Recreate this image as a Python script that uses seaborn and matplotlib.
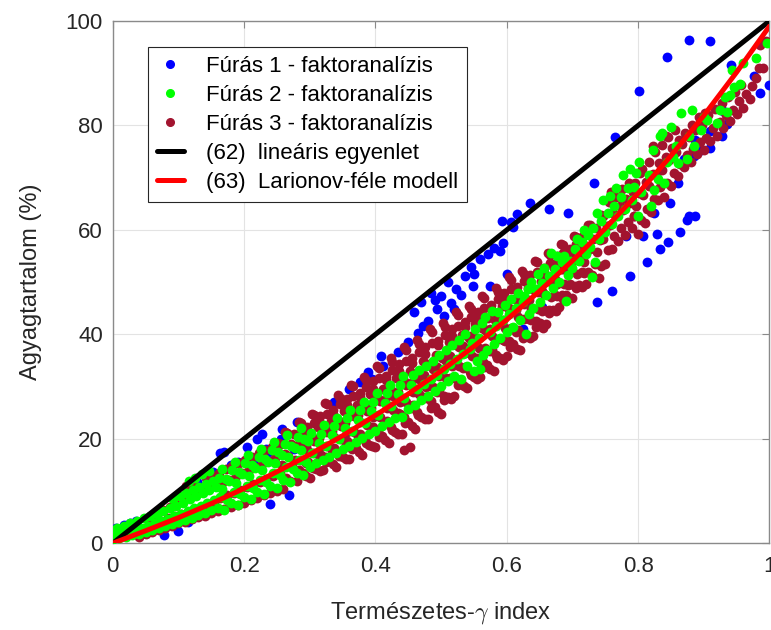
import matplotlib
matplotlib.use("Agg")
import matplotlib.pyplot as plt
from matplotlib.lines import Line2D
import seaborn as sns

# ---------------- data ----------------
blue_x = [0.005, 0.017, 0.027, 0.047, 0.078, 0.099, 0.012, 0.036, 0.062, 0.115,
          0.129, 0.152, 0.164, 0.170, 0.180, 0.190, 0.205, 0.215, 0.220, 0.228,
          0.233, 0.236, 0.256, 0.258, 0.276, 0.281, 0.240, 0.268, 0.337, 0.347,
          0.360, 0.377, 0.388, 0.395, 0.408, 0.412, 0.434, 0.449, 0.458, 0.470,
          0.473, 0.484, 0.494, 0.500, 0.505, 0.520, 0.522, 0.537, 0.548, 0.550,
          0.571, 0.575, 0.580, 0.590, 0.592, 0.600, 0.606, 0.616, 0.624, 0.636,
          0.654, 0.664, 0.693, 0.733, 0.738, 0.761, 0.765, 0.781, 0.788, 0.802,
          0.808, 0.814, 0.824, 0.829, 0.834, 0.844, 0.846, 0.849, 0.860, 0.864,
          0.865, 0.875, 0.877, 0.877, 0.885, 0.887, 0.887, 0.909, 0.910, 0.910,
          0.928, 0.930, 0.935, 0.941, 0.976, 0.986, 0.999, 0.465, 0.480, 0.490,
          0.510, 0.530, 0.515, 0.545, 0.560, 0.595, 0.610, 0.895, 0.870]
blue_y = [2.9, 3.5, 3.8, 1.9, 1.5, 2.3, 2.0, 4.2, 2.6, 4.0,
          11.8, 13.7, 17.2, 17.5, 15.0, 15.6, 18.5, 16.2, 20.0, 21.0,
          18.1, 17.5, 20.0, 21.9, 18.1, 23.3, 7.6, 9.3, 27.0, 27.7,
          29.5, 30.9, 32.8, 31.5, 35.9, 34.0, 36.6, 38.5, 44.3, 46.2,
          41.6, 48.0, 44.8, 47.3, 43.5, 44.8, 48.7, 51.1, 49.2, 51.5,
          55.3, 49.2, 56.5, 56.0, 61.7, 51.5, 61.5, 63.0, 41.0, 65.2,
          45.2, 64.0, 63.3, 69.0, 46.2, 48.3, 77.8, 58.8, 51.1, 86.7,
          58.8, 53.8, 63.3, 59.2, 56.3, 93.2, 57.6, 65.2, 69.0, 59.7,
          72.9, 62.0, 62.6, 96.4, 74.1, 77.3, 62.6, 96.2, 75.7, 78.9,
          77.9, 82.7, 80.2, 91.6, 89.4, 86.2, 87.8, 40.2, 42.5, 46.5,
          50.0, 47.5, 46.0, 53.0, 54.5, 57.5, 60.5, 75.4, 73.5]

green_x = [
    0.000, 0.004, 0.002,
    0.010, 0.014, 0.007,
    0.020, 0.024, 0.017,
    0.030, 0.034, 0.027,
    0.040, 0.044, 0.037,
    0.050, 0.054, 0.047,
    0.060, 0.064, 0.057,
    0.070, 0.074, 0.067,
    0.080, 0.084, 0.077,
    0.090, 0.094, 0.087, 0.092,
    0.100, 0.104, 0.097, 0.102,
    0.110, 0.114, 0.107, 0.112,
    0.120, 0.124, 0.117, 0.122, 0.116,
    0.130, 0.134, 0.127, 0.132, 0.126,
    0.140, 0.144, 0.137, 0.142, 0.136,
    0.150, 0.154, 0.147, 0.152, 0.146,
    0.160, 0.164, 0.157, 0.162,
    0.170, 0.174, 0.167, 0.172, 0.166,
    0.180, 0.184, 0.177, 0.182,
    0.190, 0.194, 0.187, 0.192, 0.186,
    0.200, 0.204, 0.197, 0.202,
    0.210, 0.214, 0.207, 0.212, 0.206,
    0.220, 0.224, 0.217, 0.222,
    0.230, 0.234, 0.227, 0.232, 0.226,
    0.240, 0.244, 0.237, 0.242,
    0.250, 0.254, 0.247, 0.252, 0.246,
    0.260, 0.264, 0.257, 0.262,
    0.270, 0.274, 0.267, 0.272, 0.266,
    0.280, 0.284, 0.277, 0.282,
    0.290, 0.294, 0.287, 0.292, 0.286,
    0.300, 0.304, 0.297, 0.302,
    0.310, 0.314,
    0.320, 0.324, 0.317, 0.322,
    0.330, 0.334,
    0.340, 0.344, 0.337, 0.342,
    0.350, 0.354,
    0.360, 0.364, 0.357, 0.362,
    0.370, 0.374,
    0.380, 0.384, 0.377, 0.382,
    0.390, 0.394,
    0.400, 0.404, 0.397, 0.402,
    0.410, 0.414,
    0.420, 0.424, 0.417, 0.422,
    0.430, 0.434,
    0.440, 0.444, 0.437, 0.442,
    0.450, 0.454,
    0.460, 0.464, 0.457,
    0.470, 0.474, 0.467,
    0.480, 0.484, 0.477,
    0.490, 0.494, 0.487,
    0.500, 0.504, 0.497,
    0.510, 0.514, 0.507,
    0.520, 0.524, 0.517,
    0.530, 0.534, 0.527,
    0.540, 0.544, 0.537,
    0.550, 0.554, 0.547, 0.552,
    0.560, 0.564, 0.557, 0.562,
    0.570, 0.574, 0.567,
    0.580, 0.584, 0.577,
    0.590, 0.594, 0.587,
    0.600, 0.604, 0.597,
    0.610, 0.614, 0.607,
    0.620, 0.624, 0.617,
    0.630, 0.634, 0.627, 0.632,
    0.640, 0.644, 0.637,
    0.650, 0.654, 0.647,
    0.660, 0.664, 0.657,
    0.670, 0.674, 0.667,
    0.680, 0.684, 0.677,
    0.690, 0.694, 0.687,
    0.700, 0.704, 0.697,
    0.710, 0.714, 0.707,
    0.720, 0.724, 0.717,
    0.730, 0.734, 0.727, 0.732,
    0.740, 0.744, 0.737,
    0.750, 0.754, 0.747,
    0.760, 0.764, 0.757,
    0.770, 0.774, 0.767,
    0.780, 0.784, 0.777,
    0.790, 0.794, 0.787,
    0.800, 0.804, 0.797, 0.802,
    0.820, 0.824, 0.817, 0.822,
    0.830, 0.834, 0.840, 0.844, 0.837, 0.850, 0.853,
    0.860, 0.857, 0.865, 0.875, 0.878, 0.885, 0.882, 0.895, 0.905, 0.900,
    0.920, 0.924, 0.935, 0.932, 0.940, 0.943, 0.946, 0.955, 0.960, 0.980, 0.997]
green_y = [
    0.8, 1.8, 2.6,
    1.0, 2.0, 3.0,
    1.2, 2.3, 3.4,
    1.5, 2.6, 3.8,
    1.8, 3.0, 4.3,
    2.1, 3.4, 4.8,
    2.5, 3.8, 5.2,
    2.9, 4.3, 5.7,
    3.3, 4.7, 6.2,
    3.7, 5.2, 6.7, 8.5,
    4.1, 5.7, 7.2, 9.0,
    4.5, 6.2, 7.8, 9.6,
    4.9, 6.7, 8.4, 10.2, 12.0,
    5.4, 7.2, 9.0, 10.8, 12.6,
    5.8, 7.7, 9.6, 11.4, 13.2,
    6.3, 8.2, 10.2, 12.0, 13.8,
    6.8, 8.8, 10.8, 12.6,
    6.3, 8.3, 10.4, 12.3, 14.3,
    7.8, 9.9, 12.0, 14.0,
    7.3, 9.5, 11.6, 13.6, 15.6,
    8.8, 11.0, 13.2, 15.3,
    8.4, 10.6, 12.8, 14.9, 16.9,
    9.9, 12.2, 14.4, 16.5,
    9.5, 11.8, 14.0, 16.1, 18.1,
    11.0, 13.4, 15.6, 17.8,
    10.6, 13.0, 15.3, 17.4, 19.4,
    12.2, 14.6, 16.9, 19.0,
    11.8, 14.3, 16.6, 18.7, 20.7,
    13.4, 15.9, 18.2, 20.3,
    13.0, 15.6, 17.9, 20.0, 22.0,
    14.6, 17.2, 19.6, 21.2,
    15.3, 19.3,
    15.9, 18.6, 21.0, 22.6,
    16.6, 20.7,
    17.3, 20.0, 22.4, 24.0,
    18.0, 22.1,
    18.7, 21.5, 23.9, 25.5,
    19.4, 23.7,
    20.1, 23.0, 25.5, 27.1,
    20.9, 25.3,
    21.6, 24.6, 27.1, 28.7,
    22.4, 26.9,
    23.2, 26.2, 28.7, 30.3,
    24.0, 28.6,
    24.2, 27.9, 30.4, 32.0,
    25.7, 30.3,
    26.5, 29.6, 32.2,
    27.4, 30.5, 33.1,
    28.3, 31.4, 34.0,
    29.2, 32.3, 35.0,
    30.1, 33.3, 36.0,
    31.0, 34.3, 37.0,
    32.0, 35.3, 38.0,
    31.5, 36.3, 39.0,
    33.9, 37.3, 40.0,
    33.0, 35.0, 38.4, 41.1,
    33.4, 36.0, 39.4, 42.2,
    37.1, 40.5, 43.3,
    38.2, 41.6, 44.4,
    39.3, 42.8, 44.2,
    40.4, 43.9, 45.6,
    41.5, 45.0, 46.8,
    42.7, 46.2, 48.0,
    40.0, 43.9, 47.4, 48.7,
    45.1, 48.6, 50.0,
    46.3, 49.9, 51.5,
    47.5, 51.1, 52.8,
    48.8, 52.5, 55.6,
    50.1, 53.8, 55.0,
    46.4, 51.4, 55.1,
    52.7, 56.3, 54.0,
    54.0, 57.6, 58.2,
    55.4, 59.0, 60.0,
    51.0, 53.8, 56.8, 60.4,
    58.2, 61.8, 63.3,
    59.6, 63.3, 65.8,
    61.1, 64.5, 66.5,
    62.6, 66.4, 68.0,
    64.1, 68.0, 70.5,
    65.7, 68.3, 71.6,
    62.6, 67.3, 71.0, 73.0,
    64.5, 67.7, 70.5, 75.4,
    69.7, 77.9, 69.0, 73.0, 78.6, 79.8, 74.0,
    72.9, 76.0, 82.4, 73.5, 78.0, 76.0, 83.0, 79.2, 81.0, 81.7,
    80.5, 83.0, 82.5, 85.5, 85.9, 90.6, 87.4, 88.0, 92.0, 93.0, 95.7]

maroon_x = [
    0.040, 0.044,
    0.050, 0.054,
    0.060, 0.064, 0.057,
    0.070, 0.074, 0.067,
    0.080, 0.084, 0.077,
    0.090, 0.094, 0.087,
    0.100, 0.104, 0.097,
    0.110, 0.114, 0.107, 0.112,
    0.120, 0.124, 0.117, 0.122,
    0.130, 0.134, 0.127,
    0.140, 0.144, 0.137, 0.142,
    0.150, 0.154, 0.147, 0.152,
    0.160, 0.164, 0.157, 0.162,
    0.170, 0.174, 0.167, 0.172,
    0.180, 0.184, 0.177, 0.182,
    0.190, 0.194, 0.187, 0.192,
    0.200, 0.204, 0.197, 0.202,
    0.210, 0.214, 0.207, 0.212,
    0.220, 0.224, 0.217, 0.222,
    0.230, 0.234, 0.227, 0.232,
    0.240, 0.244, 0.237, 0.242,
    0.250, 0.254, 0.247, 0.252,
    0.260, 0.264, 0.257, 0.262, 0.256, 0.263,
    0.270, 0.274, 0.267, 0.272, 0.266,
    0.280, 0.284, 0.277, 0.282, 0.276, 0.283,
    0.290, 0.294, 0.287, 0.292, 0.286,
    0.300, 0.304, 0.297, 0.302, 0.296, 0.303,
    0.310, 0.314, 0.307, 0.312, 0.306,
    0.320, 0.324, 0.317, 0.322, 0.316, 0.323,
    0.330, 0.334, 0.327, 0.332, 0.326,
    0.340, 0.344, 0.337, 0.342, 0.336, 0.343,
    0.350, 0.354, 0.347, 0.352, 0.346,
    0.360, 0.364, 0.357, 0.362, 0.356, 0.363,
    0.370, 0.374, 0.367, 0.372, 0.366,
    0.380, 0.384, 0.377, 0.382, 0.376, 0.383,
    0.390, 0.394, 0.387, 0.392, 0.386,
    0.400, 0.404, 0.397, 0.402, 0.396, 0.403,
    0.410, 0.414, 0.407, 0.412, 0.406,
    0.420, 0.424, 0.417, 0.422, 0.416, 0.423,
    0.430, 0.434, 0.427, 0.432, 0.426,
    0.440, 0.444, 0.437, 0.442, 0.436, 0.443,
    0.450, 0.454, 0.447, 0.452, 0.446,
    0.460, 0.464, 0.457, 0.462, 0.456, 0.463,
    0.470, 0.474, 0.467, 0.472, 0.466,
    0.480, 0.484, 0.477, 0.482, 0.476, 0.483,
    0.490, 0.494, 0.487, 0.492, 0.486,
    0.500, 0.504, 0.497, 0.502, 0.496, 0.503,
    0.510, 0.514, 0.507, 0.512, 0.506,
    0.520, 0.524, 0.517, 0.522, 0.516, 0.523,
    0.530, 0.534, 0.527, 0.532, 0.526,
    0.540, 0.544, 0.537, 0.542, 0.536, 0.543,
    0.550, 0.554, 0.547, 0.552, 0.546,
    0.560, 0.564, 0.557, 0.562, 0.556, 0.563,
    0.570, 0.574, 0.567, 0.572, 0.566,
    0.580, 0.584, 0.577, 0.582, 0.576, 0.583,
    0.590, 0.594, 0.587, 0.592, 0.586,
    0.600, 0.604, 0.597, 0.602, 0.596, 0.603,
    0.610, 0.614, 0.607, 0.612, 0.606,
    0.620, 0.624, 0.617, 0.622, 0.616, 0.623,
    0.630, 0.634, 0.627, 0.632, 0.626,
    0.640, 0.644, 0.637, 0.642, 0.636, 0.643,
    0.650, 0.654, 0.647, 0.652, 0.646,
    0.660, 0.664, 0.657, 0.662, 0.656, 0.663,
    0.670, 0.674, 0.667, 0.672, 0.666,
    0.680, 0.684, 0.677, 0.682, 0.676, 0.683,
    0.690, 0.694, 0.687, 0.692, 0.686,
    0.700, 0.704, 0.697, 0.702, 0.696, 0.703,
    0.710, 0.714, 0.707, 0.712, 0.706,
    0.720, 0.724, 0.717, 0.722, 0.716, 0.723,
    0.730, 0.734, 0.727, 0.732, 0.726,
    0.740, 0.744, 0.737, 0.742, 0.736, 0.743,
    0.750, 0.754, 0.747, 0.752, 0.746,
    0.760, 0.764, 0.757, 0.762, 0.756,
    0.770, 0.774, 0.767, 0.772, 0.766,
    0.780, 0.784, 0.777, 0.782, 0.776,
    0.790, 0.794, 0.787, 0.792, 0.786,
    0.800, 0.804, 0.797, 0.802, 0.796, 0.803,
    0.810, 0.814, 0.807, 0.812, 0.806,
    0.820, 0.824, 0.817, 0.822, 0.816, 0.823,
    0.830, 0.834, 0.827, 0.832, 0.826,
    0.840, 0.844, 0.837, 0.842, 0.836, 0.843,
    0.850, 0.854, 0.847, 0.852, 0.846,
    0.860, 0.864, 0.857, 0.862, 0.856,
    0.870, 0.874, 0.867, 0.872,
    0.880, 0.884, 0.877, 0.882,
    0.890, 0.894, 0.887, 0.892,
    0.900, 0.904, 0.897, 0.902,
    0.910, 0.914, 0.907,
    0.920, 0.924, 0.917,
    0.930, 0.934, 0.927,
    0.940, 0.944, 0.937,
    0.950, 0.954, 0.947,
    0.960, 0.964, 0.957,
    0.970, 0.974,
    0.980, 0.984,
    0.990, 0.986,
    0.995,
    0.443, 0.453, 0.793, 0.758,
    0.285, 0.287, 0.284, 0.286,
    0.295, 0.297, 0.294, 0.296,
    0.305, 0.307, 0.304, 0.306,
    0.315, 0.317, 0.314, 0.316,
    0.325, 0.327, 0.324, 0.326,
    0.335, 0.337, 0.334, 0.336,
    0.345, 0.347, 0.344, 0.346,
    0.355, 0.357, 0.354, 0.356,
    0.365, 0.367, 0.364, 0.366,
    0.375, 0.377, 0.374, 0.376,
    0.385, 0.387, 0.384, 0.386,
    0.395, 0.397, 0.394, 0.396,
    0.405, 0.407, 0.404, 0.406,
    0.415, 0.417, 0.414, 0.416,
    0.425, 0.427, 0.424, 0.426,
    0.435, 0.437, 0.434, 0.436,
    0.445, 0.447, 0.444, 0.446,
    0.455, 0.457, 0.454, 0.456,
    0.465, 0.467, 0.464, 0.466,
    0.475, 0.477, 0.474, 0.476,
    0.485, 0.487, 0.484, 0.486,
    0.495, 0.497, 0.494, 0.496,
    0.505, 0.507, 0.504, 0.506,
    0.515, 0.517, 0.514, 0.516,
    0.525, 0.527, 0.524, 0.526,
    0.535, 0.537, 0.534, 0.536,
    0.545, 0.547, 0.544, 0.546,
    0.555, 0.557, 0.554, 0.556,
    0.565, 0.567, 0.564, 0.566,
    0.575, 0.577, 0.574, 0.576,
    0.585, 0.587, 0.584, 0.586,
    0.595, 0.597, 0.594, 0.596,
    0.605, 0.607, 0.604, 0.606,
    0.615, 0.617, 0.614, 0.616,
    0.625, 0.627, 0.624, 0.626,
    0.635, 0.637, 0.634, 0.636,
    0.645, 0.647, 0.644, 0.646,
    0.655, 0.657, 0.654, 0.656,
    0.665, 0.667, 0.664, 0.666,
    0.675, 0.677, 0.674, 0.676,
    0.685, 0.687, 0.684, 0.686,
    0.695, 0.697, 0.694, 0.696,
    0.705, 0.707, 0.704, 0.706,
    0.715, 0.717, 0.714, 0.716]
maroon_y = [
    1.2, 2.5,
    1.8, 3.4,
    2.2, 3.9, 5.0,
    2.6, 4.2, 5.6,
    3.0, 4.8, 6.3,
    3.3, 5.2, 7.0,
    3.8, 5.6, 7.5,
    4.1, 6.0, 8.2, 11.0,
    4.6, 6.6, 8.8, 11.6,
    5.0, 7.0, 9.4,
    5.3, 7.6, 10.0, 12.5,
    5.8, 8.0, 10.5, 12.8,
    6.2, 8.6, 11.0, 13.5,
    6.6, 9.2, 11.6, 14.2,
    7.0, 9.6, 12.2, 14.8,
    7.4, 10.2, 12.8, 15.3,
    7.8, 10.8, 13.4, 15.9,
    8.3, 11.3, 14.0, 16.5,
    8.7, 11.8, 14.6, 17.2,
    9.2, 12.3, 15.2, 17.8,
    9.6, 12.9, 15.8, 18.5,
    10.1, 13.4, 16.4, 19.2,
    10.4, 12.5, 15.0, 17.1, 19.1, 21.3,
    12.0, 14.5, 16.7, 19.0, 21.1,
    11.9, 14.1, 16.0, 18.8, 21.0, 23.2,
    13.4, 15.4, 18.4, 20.2, 23.0,
    12.5, 14.9, 17.6, 20.0, 22.3, 24.8,
    14.2, 17.0, 19.5, 22.2, 24.6,
    14.0, 16.5, 18.6, 21.8, 24.3, 26.8,
    15.7, 17.9, 21.4, 23.4, 26.7,
    14.7, 17.4, 20.4, 23.1, 25.6, 28.4,
    16.5, 19.6, 22.4, 25.4, 27.9,
    16.2, 19.0, 21.4, 24.9, 27.6, 30.4,
    18.2, 20.6, 24.3, 26.5, 30.1,
    16.9, 19.8, 23.2, 26.1, 28.8, 31.9,
    18.9, 22.3, 25.3, 28.5, 31.3,
    18.5, 21.5, 24.1, 27.9, 31.0, 34.0,
    20.5, 23.1, 27.2, 29.6, 33.5,
    19.2, 22.3, 26.0, 29.1, 32.1, 35.4,
    21.3, 25.0, 28.2, 31.7, 34.8,
    21.0, 24.2, 27.0, 31.0, 34.3, 37.5,
    23.3, 26.0, 30.3, 32.9, 37.0,
    21.9, 25.2, 29.0, 32.3, 35.4, 38.9,
    24.2, 28.0, 31.4, 35.0, 38.2,
    23.8, 27.2, 30.0, 34.3, 37.6, 41.0,
    26.1, 29.0, 33.4, 36.1, 40.4,
    24.8, 28.2, 32.1, 35.5, 38.7, 42.2,
    28.0, 31.7, 35.0, 38.5, 41.5,
    28.3, 31.4, 34.0, 38.0, 41.1, 44.2,
    30.9, 33.5, 37.5, 39.9, 43.7,
    29.8, 32.8, 36.4, 39.4, 42.3, 45.5,
    31.8, 35.4, 38.5, 41.9, 44.8,
    31.8, 34.8, 37.4, 41.3, 44.3, 47.4,
    34.2, 36.8, 40.8, 43.2, 47.0,
    33.0, 36.1, 39.6, 42.7, 45.6, 48.8,
    35.4, 39.0, 42.0, 45.4, 48.2,
    35.8, 38.7, 41.2, 45.0, 47.9, 50.9,
    38.1, 40.5, 44.4, 46.7, 50.5,
    37.1, 40.0, 43.4, 46.3, 49.1, 52.2,
    39.6, 42.9, 45.8, 48.9, 51.6,
    39.7, 42.6, 44.9, 48.5, 51.3, 54.1,
    42.1, 44.4, 48.1, 50.3, 53.8,
    42.0, 44.6, 47.7, 50.3, 52.8, 55.5,
    44.7, 47.6, 50.1, 52.8, 55.2,
    45.2, 47.6, 49.6, 52.6, 55.0, 57.4,
    47.5, 49.4, 52.5, 54.3, 57.2,
    47.0, 49.3, 52.0, 54.3, 56.4, 58.9,
    49.4, 51.9, 54.2, 56.6, 58.7,
    49.7, 51.9, 53.8, 56.6, 58.8, 61.0,
    51.4, 53.4, 56.4, 58.2, 61.0,
    50.8, 53.1, 55.8, 58.1, 60.3, 62.8,
    53.5, 56.1, 58.3, 60.7, 62.7,
    56.4, 58.8, 61.0, 63.2, 65.3,
    57.9, 60.3, 62.6, 64.5, 66.4,
    59.0, 61.5, 63.8, 66.0, 67.8,
    60.4, 62.6, 65.1, 67.2, 68.9,
    59.2, 62.0, 64.5, 67.0, 69.0, 71.0,
    61.3, 64.0, 66.6, 69.2, 71.6,
    63.5, 66.0, 68.5, 70.8, 73.0, 76.0,
    65.8, 68.2, 70.6, 72.9, 75.0,
    66.4, 69.0, 71.5, 74.0, 76.2, 78.0,
    68.5, 71.0, 73.4, 75.6, 77.8,
    70.3, 72.6, 75.0, 77.2, 79.2,
    72.0, 74.3, 76.5, 78.6,
    73.0, 75.5, 77.8, 80.0,
    74.5, 76.8, 79.2, 81.6,
    75.4, 77.6, 80.0, 82.3,
    77.0, 79.5, 82.0,
    78.0, 80.6, 83.2,
    79.6, 82.0, 84.3,
    80.8, 83.0, 85.4,
    82.2, 84.6, 86.5,
    83.4, 86.0, 87.8,
    85.0, 87.5,
    89.0, 91.0,
    91.0, 95.5,
    96.2,
    17.8, 18.5, 62.6, 67.2,
    13.3, 16.0, 18.8, 21.5,
    12.8, 15.6, 18.6, 21.4,
    14.4, 17.3, 20.3, 23.1,
    13.9, 16.9, 20.2, 23.1,
    15.6, 18.6, 21.8, 24.8,
    15.1, 18.2, 21.6, 24.8,
    16.8, 20.0, 23.4, 26.6,
    16.2, 19.5, 23.1, 26.4,
    18.0, 21.3, 24.9, 28.2,
    17.4, 20.9, 24.6, 28.0,
    19.2, 22.7, 26.4, 29.9,
    18.6, 22.2, 26.0, 29.6,
    20.4, 24.1, 27.9, 31.6,
    19.7, 23.5, 27.5, 31.2,
    21.7, 25.5, 29.4, 33.2,
    21.0, 24.8, 29.0, 32.9,
    23.1, 27.0, 31.0, 35.0,
    22.4, 26.4, 30.7, 34.6,
    24.5, 28.5, 32.6, 36.6,
    23.8, 27.9, 32.2, 36.3,
    26.0, 30.0, 34.3, 38.3,
    25.2, 29.3, 33.8, 37.9,
    27.5, 31.6, 35.8, 39.9,
    27.7, 31.6, 35.8, 39.7,
    30.3, 34.0, 38.0, 41.7,
    30.1, 33.8, 37.8, 41.5,
    32.2, 35.9, 39.7, 43.4,
    31.4, 35.2, 39.3, 43.0,
    33.7, 37.4, 41.3, 45.0,
    33.4, 37.1, 41.1, 44.8,
    35.4, 39.1, 43.0, 46.7,
    35.1, 38.8, 42.8, 46.5,
    37.6, 41.2, 45.0, 48.6,
    37.3, 40.9, 44.7, 48.3,
    39.4, 43.0, 46.6, 50.2,
    39.3, 42.7, 46.5, 50.0,
    41.5, 44.9, 48.5, 51.9,
    41.3, 44.7, 48.4, 51.8,
    44.1, 47.2, 50.6, 53.7,
    44.4, 47.4, 50.7, 53.7,
    46.7, 49.6, 52.6, 55.5,
    46.9, 49.7, 52.7, 55.5,
    48.8, 51.6, 54.5, 57.3,
    49.1, 51.8, 54.7, 57.4]

linear_x = [0.0, 1.0]
linear_y = [0.0, 100.0]

larionov_x = [0.00, 0.05, 0.10, 0.15, 0.20, 0.25, 0.30, 0.35, 0.40, 0.45, 0.50,
              0.55, 0.60, 0.65, 0.70, 0.75, 0.80, 0.85, 0.90, 0.95, 1.00]
larionov_y = [0.0, 2.4, 4.9, 7.6, 10.5, 13.7, 17.0, 20.6, 24.5, 28.6, 33.0,
              37.7, 42.8, 48.3, 54.1, 60.3, 67.0, 74.2, 81.9, 90.2, 99.0]

series_labels = ["Fúrás 1 - faktoranalízis", "Fúrás 2 - faktoranalízis",
                 "Fúrás 3 - faktoranalízis", "(62)  lineáris egyenlet",
                 "(63)  Larionov-féle modell"]
x_ticks = [0, 0.2, 0.4, 0.6, 0.8, 1.0]
x_tick_labels = ["0", "0.2", "0.4", "0.6", "0.8", "1"]
y_ticks = [0, 20, 40, 60, 80, 100]
y_tick_labels = ["0", "20", "40", "60", "80", "100"]

# ---------------- style ----------------
sns.set_style("white")
plt.rcParams["font.family"] = ["Liberation Sans", "DejaVu Sans"]
plt.rcParams["mathtext.fontset"] = "cm"

BLUE = "#0000FF"
GREEN = "#00FF00"
MAROON = "#A2142F"
TXT = "#262626"

fig = plt.figure(figsize=(7.71, 6.30), dpi=100)
ax = fig.add_axes([0.1462, 0.1376, 0.8518, 0.829])

S = 50
sns.scatterplot(x=blue_x, y=blue_y, color=BLUE, s=S, linewidth=0, ax=ax, zorder=3, legend=False)
sns.scatterplot(x=maroon_x, y=maroon_y, color=MAROON, s=S, linewidth=0, ax=ax, zorder=3, legend=False)
sns.scatterplot(x=green_x, y=green_y, color=GREEN, s=S, linewidth=0, ax=ax, zorder=3, legend=False)
sns.lineplot(x=linear_x, y=linear_y, color="black", linewidth=3.6, ax=ax, zorder=4)
sns.lineplot(x=larionov_x, y=larionov_y, color="red", linewidth=3.6, ax=ax, zorder=5)

ax.set_xlim(0, 1)
ax.set_ylim(0, 100)
ax.set_xticks(x_ticks)
ax.set_xticklabels(x_tick_labels)
ax.set_yticks(y_ticks)
ax.set_yticklabels(y_tick_labels)

ax.grid(True, color="#e3e3e3", linewidth=0.8)
ax.set_axisbelow(True)
for sp in ax.spines.values():
    sp.set_visible(True)
    sp.set_color("#8a8a8a")
    sp.set_linewidth(1.0)

ax.tick_params(axis="both", which="major", direction="in", length=5, width=0.8,
               color="#8a8a8a", labelcolor=TXT, labelsize=16,
               top=True, right=True)
ax.tick_params(axis="x", pad=9)
ax.tick_params(axis="y", pad=7)

ax.set_xlabel("Természetes-$\\gamma$ index", fontsize=17, color=TXT, labelpad=17)
ax.set_ylabel("Agyagtartalom (%)", fontsize=17, color=TXT, labelpad=17)

handles = [
    Line2D([], [], marker="o", linestyle="none", color=BLUE, markersize=5.5),
    Line2D([], [], marker="o", linestyle="none", color=GREEN, markersize=5.5),
    Line2D([], [], marker="o", linestyle="none", color=MAROON, markersize=5.5),
    Line2D([], [], color="black", linewidth=3.6),
    Line2D([], [], color="red", linewidth=3.6),
]
leg = ax.legend(handles, series_labels, loc="upper left",
                bbox_to_anchor=(0.0537, 0.9508), borderaxespad=0,
                fontsize=16, frameon=True, fancybox=False, framealpha=1,
                edgecolor="#262626", borderpad=0.4, labelspacing=0.36,
                handlelength=1.2, handletextpad=1.0)
leg.get_frame().set_linewidth(0.8)
for t in leg.get_texts():
    t.set_color("black")

fig.savefig("out.png", dpi=100)
